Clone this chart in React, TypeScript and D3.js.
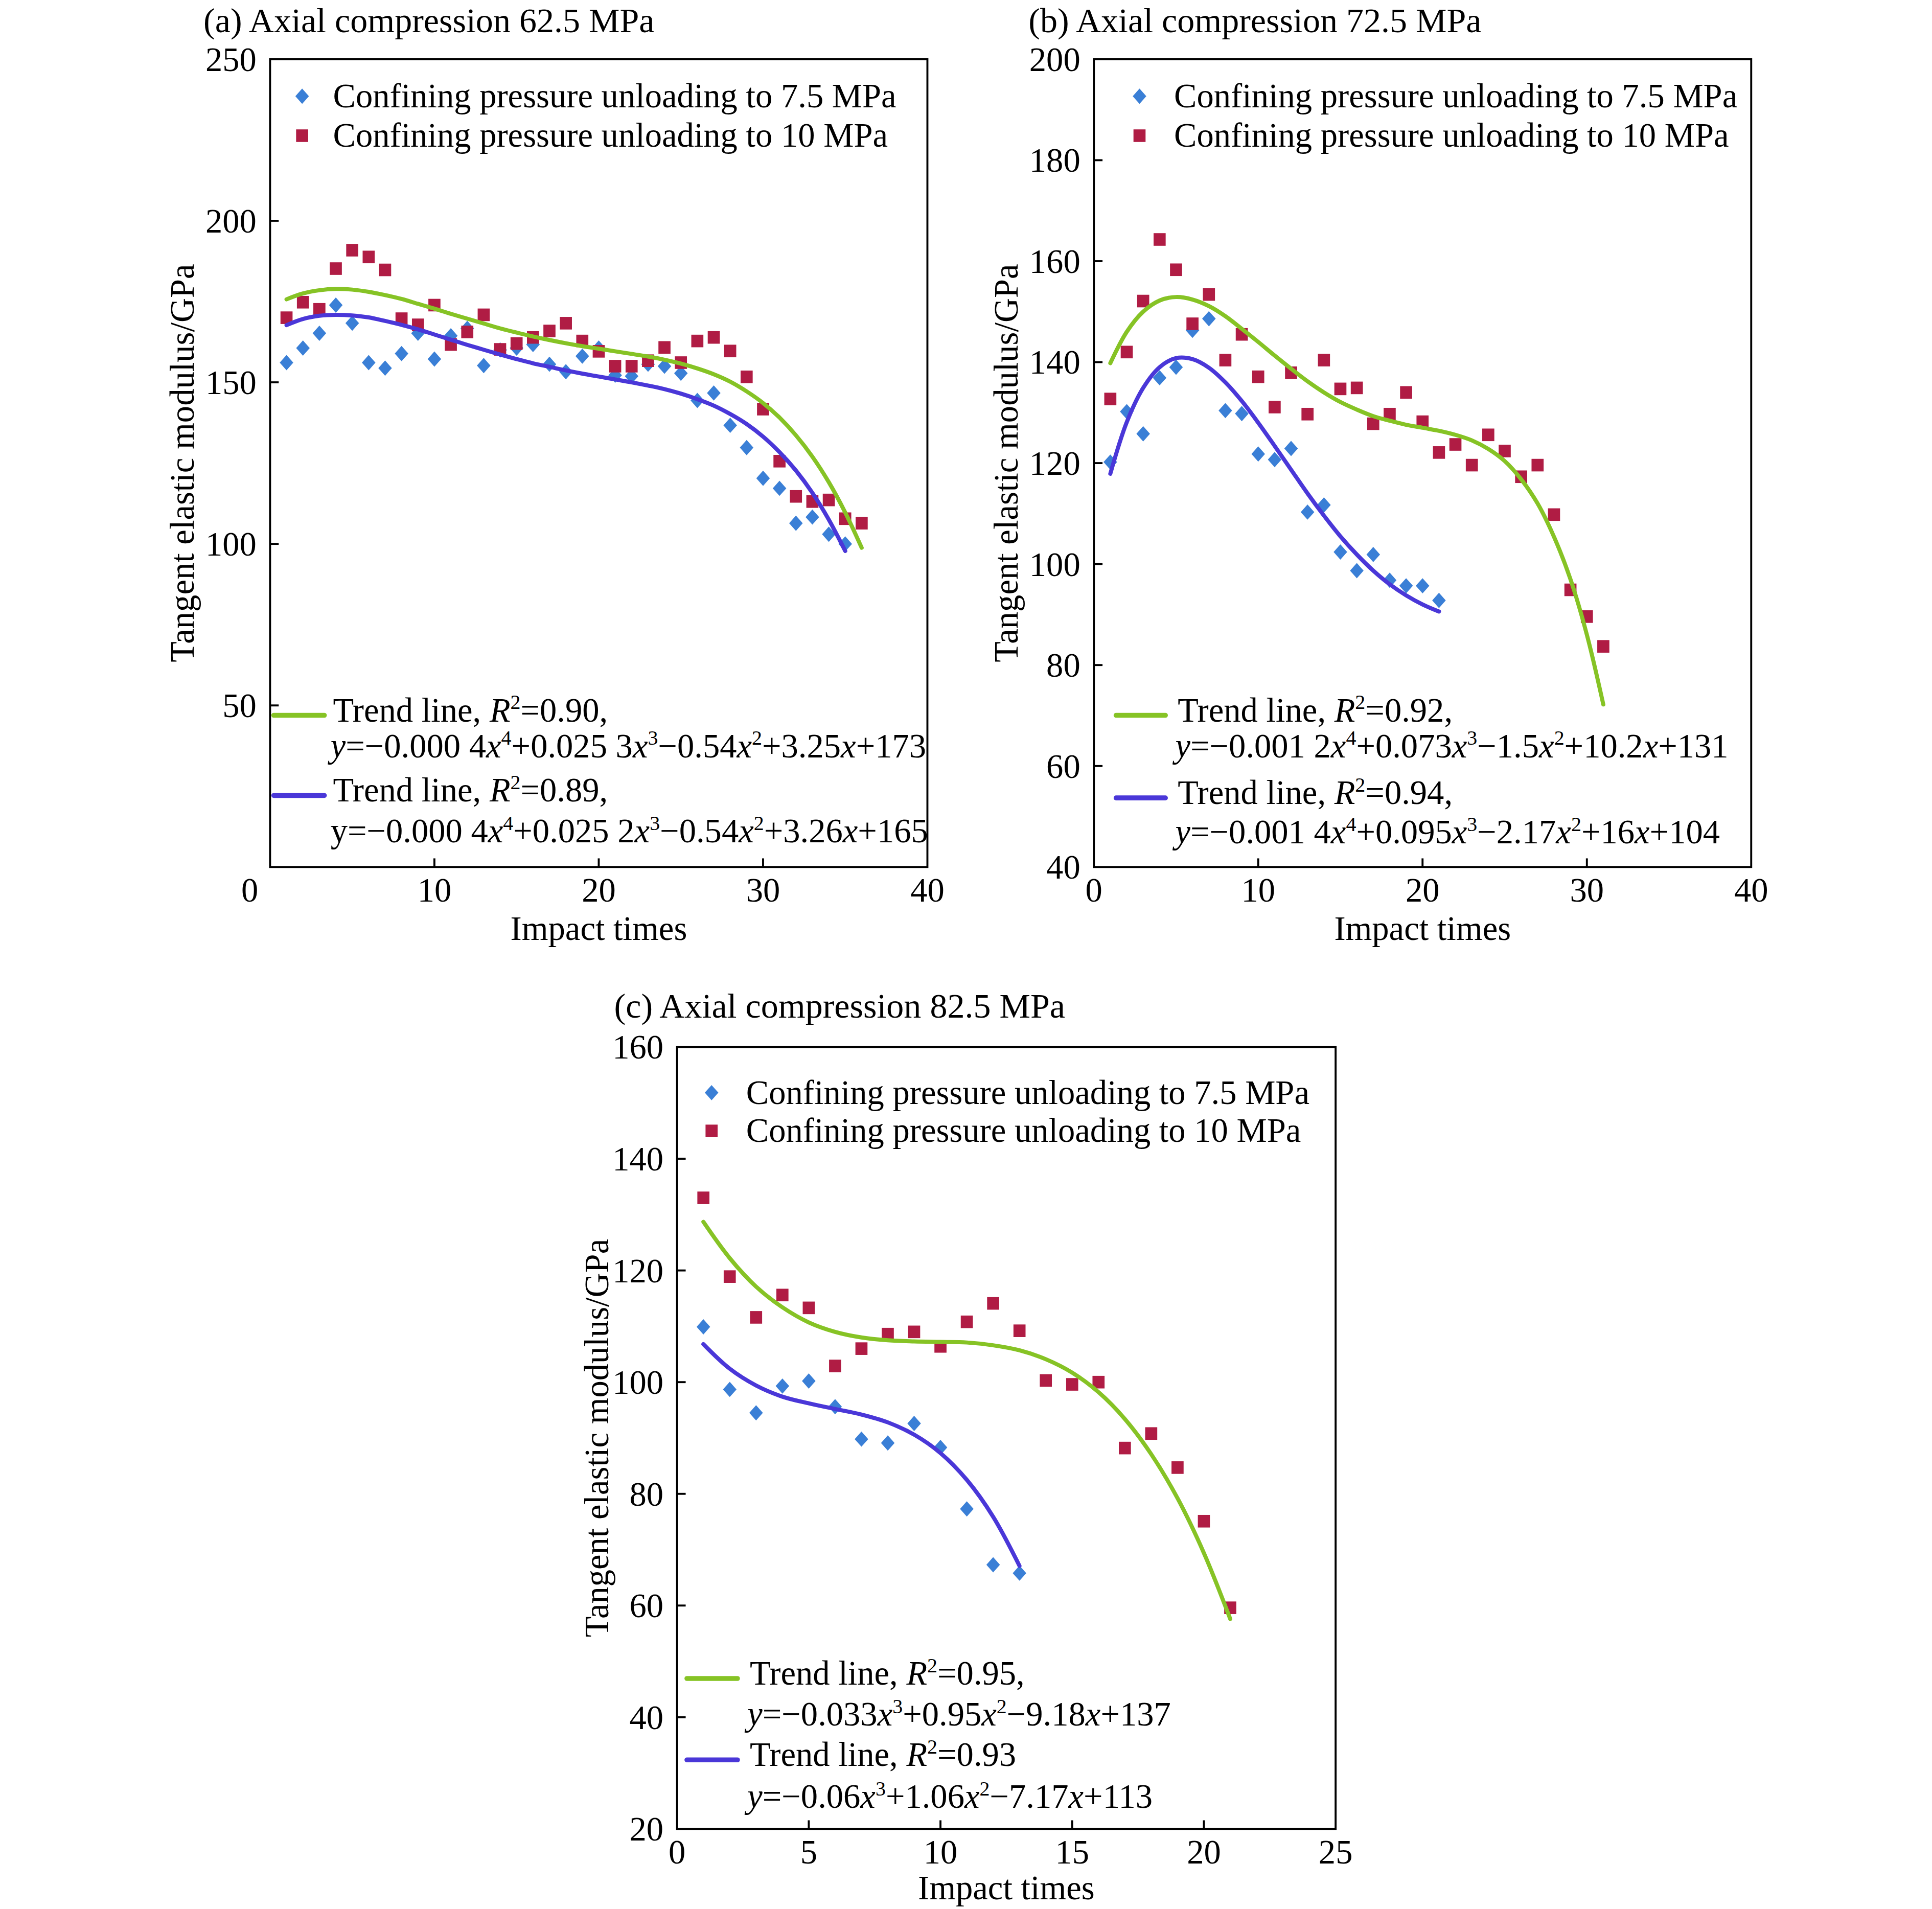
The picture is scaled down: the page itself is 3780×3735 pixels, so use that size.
import React from 'react';
import * as d3 from 'd3';

// ---------- Panel (a): axial compression 62.5 MPa ----------
const impactsA = [1,2,3,4,5,6,7,8,9,10,11,12,13,14,15,16,17,18,19,20,21,22,23,24,25,26,27,28,29,30,31,32,33,34,35,36];
const modulusA_75 = [156.1,160.6,165.2,173.9,168.3,156.1,154.4,158.9,165.2,157.2,164.4,166.7,155.2,160.0,160.6,161.7,155.6,153.3,158.1,160.6,152.2,151.9,155.6,155.0,152.8,144.4,146.7,136.7,129.8,120.3,117.2,106.4,108.3,103.0,100.0];
const modulusA_10 = [170.0,174.8,172.6,185.2,190.9,188.8,184.8,169.7,167.8,173.9,161.7,165.6,170.9,160.2,162.0,163.9,165.9,168.3,162.8,159.6,155.0,155.0,156.7,160.8,156.1,162.8,163.9,159.7,151.7,141.7,125.6,114.7,113.1,113.6,107.8,106.4];
const trendA_10 = [175.7,177.5,178.5,178.9,178.7,178.0,177.0,175.8,174.3,172.8,171.2,169.7,168.2,166.7,165.4,164.2,163.1,162.1,161.2,160.4,159.6,158.8,158.0,157.0,155.8,154.3,152.5,150.2,147.2,143.6,139.1,133.6,127.0,119.1,109.7,98.8];
const trendA_75 = [167.7,169.6,170.6,170.9,170.7,170.1,169.0,167.8,166.4,164.8,163.2,161.6,160.1,158.6,157.2,155.9,154.8,153.7,152.7,151.8,150.9,150.0,149.0,147.9,146.5,144.8,142.8,140.2,137.1,133.2,128.4,122.7,115.8,107.5,97.8];
const xTicksA = [0,10,20,30,40];
const yTicksA = [50,100,150,200,250];

// ---------- Panel (b): axial compression 72.5 MPa ----------
const impactsB = [1,2,3,4,5,6,7,8,9,10,11,12,13,14,15,16,17,18,19,20,21,22,23,24,25,26,27,28,29,30,31];
const modulusB_75 = [120.2,130.2,125.8,136.9,139.0,146.3,148.6,130.4,129.8,121.8,120.7,122.9,110.3,111.7,102.4,98.7,101.9,96.8,95.7,95.7,92.8];
const modulusB_10 = [132.7,142.0,152.1,164.3,158.3,147.6,153.4,140.4,145.5,137.1,131.1,137.9,129.7,140.4,134.7,134.9,127.8,129.7,134.0,128.2,122.1,123.7,119.6,125.6,122.4,117.3,119.6,109.8,94.9,89.6,83.7];
const trendB_10 = [139.8,146.0,150.0,152.2,152.9,152.4,151.1,149.1,146.6,144.0,141.3,138.7,136.2,134.0,132.1,130.6,129.3,128.4,127.6,127.0,126.4,125.6,124.5,122.8,120.4,116.8,112.0,105.4,97.0,86.0,72.2];
const trendB_75 = [117.9,128.1,134.9,139.0,140.8,140.6,138.9,136.0,132.3,128.0,123.4,118.7,114.0,109.6,105.5,101.9,98.7,96.0,93.8,92.0,90.6];
const xTicksB = [0,10,20,30,40];
const yTicksB = [40,60,80,100,120,140,160,180,200];

// ---------- Panel (c): axial compression 82.5 MPa ----------
const impactsC = [1,2,3,4,5,6,7,8,9,10,11,12,13,14,15,16,17,18,19,20,21];
const modulusC_75 = [109.9,98.7,94.5,99.3,100.2,95.6,89.8,89.1,92.6,88.3,77.3,67.3,65.8];
const modulusC_10 = [133.0,118.9,111.6,115.6,113.3,102.9,106.0,108.6,109.0,106.4,110.8,114.1,109.2,100.3,99.6,100.0,88.2,90.8,84.7,75.1,59.6];
const trendC_10 = [128.7,122.2,117.1,113.4,110.7,109.0,108.0,107.5,107.3,107.2,107.1,106.6,105.7,104.1,101.7,98.2,93.4,87.1,79.2,69.4,57.6];
const trendC_75 = [106.8,102.4,99.4,97.4,96.2,95.2,94.2,92.8,90.6,87.3,82.5,75.9,67.1];
const xTicksC = [0,5,10,15,20,25];
const yTicksC = [20,40,60,80,100,120,140,160];

// ---------- labels ----------
const legendDiamond = 'Confining pressure unloading to 7.5 MPa';
const legendSquare = 'Confining pressure unloading to 10 MPa';
const yAxisTitle = 'Tangent elastic modulus/GPa';
const xAxisTitle = 'Impact times';

const BLUE_PT = '#3a7fd6';
const RED_PT = '#b01c44';
const GREEN_LN = '#86c325';
const PURPLE_LN = '#4a37d8';
const FONT = '"Liberation Serif", "Times New Roman", serif';
const FS = 27.6;
const FS_TITLE = 28.2;
const VB_W = 1566.6;
const VB_H = 1547.9;

type Seg = { t: string; i?: boolean; s?: boolean };
function parse(str: string): Seg[] {
  const parts = str.split(/(\*[^*]+\*|\^[^^]+\^)/).filter((p) => p.length > 0);
  return parts.map((p) => {
    if (p.startsWith('*')) return { t: p.slice(1, -1), i: true };
    if (p.startsWith('^')) return { t: p.slice(1, -1), s: true };
    return { t: p };
  });
}

function Rich({ x, y, str }: { x: number; y: number; str: string }) {
  const segs = parse(str);
  let raised = false;
  const out = segs.map((s, k) => {
    let dy: number | undefined;
    if (s.s && !raised) { dy = -10; raised = true; }
    else if (!s.s && raised) { dy = 10; raised = false; }
    return (
      <tspan key={k} dy={dy} fontStyle={s.i ? 'italic' : 'normal'} fontSize={s.s ? FS * 0.6 : FS}>
        {s.t}
      </tspan>
    );
  });
  return (
    <text x={x} y={y} fontSize={FS} style={{ whiteSpace: 'pre' }}>
      {out}
    </text>
  );
}

type PanelProps = {
  frame: { left: number; right: number; top: number; bottom: number };
  xDomain: [number, number];
  yDomain: [number, number];
  xTicks: number[];
  yTicks: number[];
  impacts: number[];
  pts75: number[];
  pts10: number[];
  trend75: number[];
  trend10: number[];
  title: string;
  titlePos: [number, number];
  yTitleX: number;
  xTitleDy: number;
  zeroShift: number;
  legTop: { mx: number; tx: number; y1: number; y2: number };
  legBot: { lx1: number; lx2: number; tx: number; ex: number; y: number[] };
  legTexts: string[];
};

const DW = 5.5; // diamond half width
const DH = 6.2; // diamond half height
const SW = 9.8; // square width
const SH = 10.2; // square height

function Panel(p: PanelProps) {
  const { left, right, top, bottom } = p.frame;
  const xs = d3.scaleLinear().domain(p.xDomain).range([left, right]);
  const ys = d3.scaleLinear().domain(p.yDomain).range([bottom, top]);
  const line = d3
    .line<[number, number]>()
    .x((d) => xs(d[0]))
    .y((d) => ys(d[1]))
    .curve(d3.curveCatmullRom.alpha(0.5));
  const t10: [number, number][] = p.trend10.map((v, i) => [p.impacts[i], v]);
  const t75: [number, number][] = p.trend75.map((v, i) => [p.impacts[i], v]);
  const dia = (cx: number, cy: number) => `M${cx},${cy - DH}L${cx + DW},${cy}L${cx},${cy + DH}L${cx - DW},${cy}Z`;
  const tick = 7;
  const midY = (top + bottom) / 2;
  const sw = 1.6;
  return (
    <g>
      <text x={p.titlePos[0]} y={p.titlePos[1]} fontSize={FS_TITLE}>{p.title}</text>
      {/* markers */}
      {p.pts75.map((v, i) => (
        <path key={'d' + i} d={dia(xs(p.impacts[i]), ys(v))} fill={BLUE_PT} />
      ))}
      {p.pts10.map((v, i) => (
        <rect key={'s' + i} x={xs(p.impacts[i]) - SW / 2} y={ys(v) - SH / 2} width={SW} height={SH} fill={RED_PT} />
      ))}
      {/* trend lines */}
      <path d={line(t10) || ''} fill="none" stroke={GREEN_LN} strokeWidth={3.3} strokeLinecap="round" />
      <path d={line(t75) || ''} fill="none" stroke={PURPLE_LN} strokeWidth={3.3} strokeLinecap="round" />
      {/* frame */}
      <rect x={left} y={top} width={right - left} height={bottom - top} fill="none" stroke="#000" strokeWidth={sw} />
      {/* ticks */}
      {p.yTicks.map((t) => (
        <g key={'yt' + t}>
          {t !== p.yDomain[1] && t !== p.yDomain[0] && (
            <line x1={left} x2={left + tick} y1={ys(t)} y2={ys(t)} stroke="#000" strokeWidth={sw} />
          )}
          <text x={left - 11} y={ys(t) + 9.5} fontSize={FS} textAnchor="end">{t}</text>
        </g>
      ))}
      {p.xTicks.map((t) => (
        <g key={'xt' + t}>
          {t !== p.xDomain[1] && t !== p.xDomain[0] && (
            <line x1={xs(t)} x2={xs(t)} y1={bottom} y2={bottom - tick} stroke="#000" strokeWidth={sw} />
          )}
          <text x={xs(t) + (t === 0 ? p.zeroShift : 0)} y={bottom + 28} fontSize={FS} textAnchor="middle">{t}</text>
        </g>
      ))}
      <text x={(left + right) / 2} y={bottom + p.xTitleDy} fontSize={FS} textAnchor="middle">{xAxisTitle}</text>
      <text transform={`translate(${p.yTitleX},${midY}) rotate(-90)`} fontSize={FS} textAnchor="middle" dy={9}>
        {yAxisTitle}
      </text>
      {/* top legend */}
      <path d={dia(p.legTop.mx, p.legTop.y1)} fill={BLUE_PT} />
      <text x={p.legTop.tx} y={p.legTop.y1 + 9} fontSize={FS}>{legendDiamond}</text>
      <rect x={p.legTop.mx - SW / 2} y={p.legTop.y2 - SH / 2} width={SW} height={SH} fill={RED_PT} />
      <text x={p.legTop.tx} y={p.legTop.y2 + 9} fontSize={FS}>{legendSquare}</text>
      {/* bottom legend */}
      <line x1={p.legBot.lx1} x2={p.legBot.lx2} y1={p.legBot.y[0] - 5} y2={p.legBot.y[0] - 5} stroke={GREEN_LN} strokeWidth={4} strokeLinecap="round" />
      <Rich x={p.legBot.tx} y={p.legBot.y[0]} str={p.legTexts[0]} />
      <Rich x={p.legBot.ex} y={p.legBot.y[1]} str={p.legTexts[1]} />
      <line x1={p.legBot.lx1} x2={p.legBot.lx2} y1={p.legBot.y[2] - 5} y2={p.legBot.y[2] - 5} stroke={PURPLE_LN} strokeWidth={4} strokeLinecap="round" />
      <Rich x={p.legBot.tx} y={p.legBot.y[2]} str={p.legTexts[2]} />
      <Rich x={p.legBot.ex} y={p.legBot.y[3]} str={p.legTexts[3]} />
    </g>
  );
}

export default function App() {
  return (
    <svg
      width={3780}
      height={3735}
      viewBox={`0 0 ${VB_W} ${VB_H}`}
      style={{ position: 'absolute', left: 0, top: 0, background: '#fff' }}
      fontFamily={FONT}
    >
      <rect x={0} y={0} width={VB_W} height={VB_H} fill="#fff" />
      <Panel
        frame={{ left: 219, right: 752, top: 48, bottom: 703 }}
        xDomain={[0, 40]}
        yDomain={[0, 250]}
        xTicks={xTicksA}
        yTicks={yTicksA}
        impacts={impactsA}
        pts75={modulusA_75}
        pts10={modulusA_10}
        trend75={trendA_75}
        trend10={trendA_10}
        title="(a) Axial compression 62.5 MPa"
        titlePos={[165, 26]}
        yTitleX={148}
        xTitleDy={59}
        zeroShift={-16.5}
        legTop={{ mx: 245, tx: 270, y1: 78, y2: 110 }}
        legBot={{ lx1: 222, lx2: 263, tx: 270, ex: 268, y: [585, 614, 650, 683] }}
        legTexts={[
          'Trend line, *R*^2^=0.90,',
          '*y*=\u22120.000 4*x*^4^+0.025 3*x*^3^\u22120.54*x*^2^+3.25*x*+173',
          'Trend line, *R*^2^=0.89,',
          'y=\u22120.000 4*x*^4^+0.025 2*x*^3^\u22120.54*x*^2^+3.26*x*+165',
        ]}
      />
      <Panel
        frame={{ left: 887, right: 1420, top: 48, bottom: 703 }}
        xDomain={[0, 40]}
        yDomain={[40, 200]}
        xTicks={xTicksB}
        yTicks={yTicksB}
        impacts={impactsB}
        pts75={modulusB_75}
        pts10={modulusB_10}
        trend75={trendB_75}
        trend10={trendB_10}
        title="(b) Axial compression 72.5 MPa"
        titlePos={[834, 26]}
        yTitleX={816}
        xTitleDy={59}
        zeroShift={0}
        legTop={{ mx: 924, tx: 952, y1: 78, y2: 110 }}
        legBot={{ lx1: 905, lx2: 945, tx: 955, ex: 953, y: [585, 614, 652, 684] }}
        legTexts={[
          'Trend line, *R*^2^=0.92,',
          '*y*=\u22120.001 2*x*^4^+0.073*x*^3^\u22121.5*x*^2^+10.2*x*+131',
          'Trend line, *R*^2^=0.94,',
          '*y*=\u22120.001 4*x*^4^+0.095*x*^3^\u22122.17*x*^2^+16*x*+104',
        ]}
      />
      <Panel
        frame={{ left: 549, right: 1083, top: 849, bottom: 1483 }}
        xDomain={[0, 25]}
        yDomain={[20, 160]}
        xTicks={xTicksC}
        yTicks={yTicksC}
        impacts={impactsC}
        pts75={modulusC_75}
        pts10={modulusC_10}
        trend75={trendC_75}
        trend10={trendC_10}
        title="(c) Axial compression 82.5 MPa"
        titlePos={[498, 825]}
        yTitleX={484}
        xTitleDy={57}
        zeroShift={0}
        legTop={{ mx: 577, tx: 605, y1: 886, y2: 917 }}
        legBot={{ lx1: 557, lx2: 598, tx: 608, ex: 606, y: [1366, 1399, 1432, 1466] }}
        legTexts={[
          'Trend line, *R*^2^=0.95,',
          '*y*=\u22120.033*x*^3^+0.95*x*^2^\u22129.18*x*+137',
          'Trend line, *R*^2^=0.93',
          '*y*=\u22120.06*x*^3^+1.06*x*^2^\u22127.17*x*+113',
        ]}
      />
    </svg>
  );
}
